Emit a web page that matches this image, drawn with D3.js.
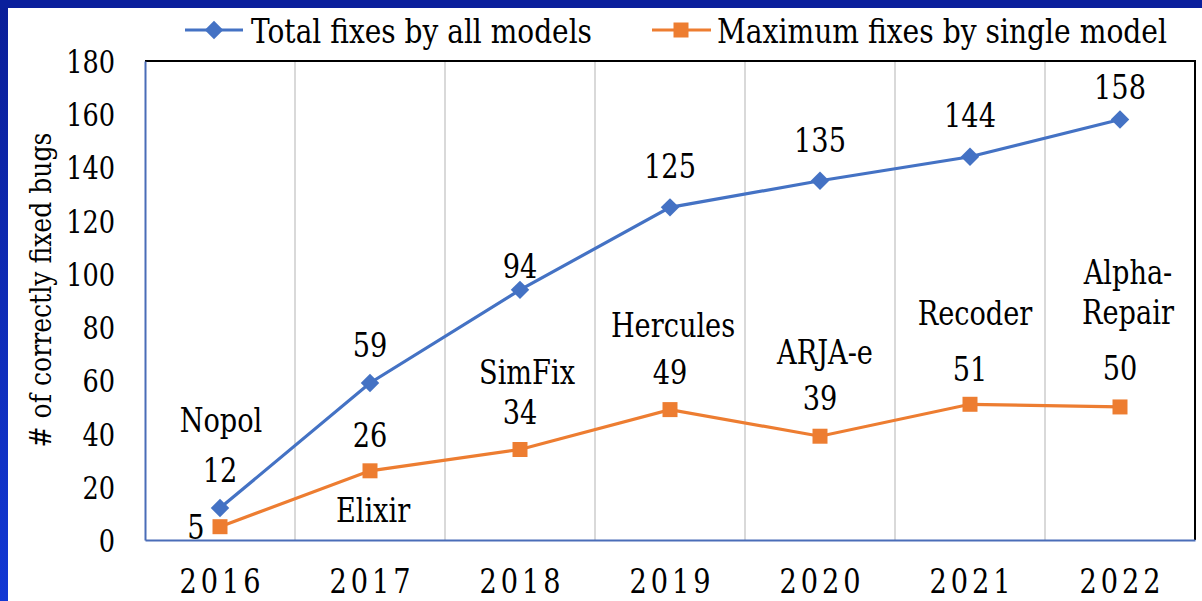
<!DOCTYPE html>
<html>
<head>
  <script src="https://d3js.org/d3.v7.min.js"></script>
  <style>
    body { margin: 0; background: white; }
  </style>
</head>
<body>
  <svg id="chart" width="1202" height="601"></svg>
  <script>
    // data
    const years = ["2016", "2017", "2018", "2019", "2020", "2021", "2022"];
    const totalFixes = [12, 59, 94, 125, 135, 144, 158];
    const maxFixes = [5, 26, 34, 49, 39, 51, 50];
    const bestModel = [["Nopol"], ["Elixir"], ["SimFix"], ["Hercules"], ["ARJA-e"], ["Recoder"], ["Alpha-", "Repair"]];
    const yTicks = [0, 20, 40, 60, 80, 100, 120, 140, 160, 180];
    const seriesNames = ["Total fixes by all models", "Maximum fixes by single model"];

    // label offsets relative to the marker (layout only)
    const totalLabelDy = [-38, -38, -24, -42, -41, -42, -33];
    const maxLabelPos = [
      { vx: -24, vy: 0, nx: 1, ny: [-107] },
      { vx: 0, vy: -36, nx: 3, ny: [39] },
      { vx: 0, vy: -38, nx: 7, ny: [-78] },
      { vx: 0, vy: -38, nx: 3, ny: [-85] },
      { vx: 0, vy: -38, nx: 5, ny: [-84] },
      { vx: 0, vy: -36, nx: 5, ny: [-92] },
      { vx: 0, vy: -39, nx: 8, ny: [-135, -95] }
    ];

    const FONT = "'DejaVu Serif', 'Liberation Serif', 'Times New Roman', serif";
    const blue = "#4472c4", orange = "#ed7d31";
    const SX = 0.8, SY = 1.0; // squeeze the wide serif to the source proportions
    const FS = 34;
    const margin = { left: 145, top: 61, right: 7, bottom: 61 };
    const W = 1202, H = 601;

    const svg = d3.select("#chart");

    // frame
    const grad = svg.append("defs").append("linearGradient")
      .attr("id", "leftBar").attr("x1", 0).attr("x2", 0).attr("y1", 0).attr("y2", 1);
    grad.append("stop").attr("offset", "0%").attr("stop-color", "#0a1e98");
    grad.append("stop").attr("offset", "100%").attr("stop-color", "#1238d4");
    svg.append("rect").attr("x", 0).attr("y", 0).attr("width", 8).attr("height", H).attr("fill", "url(#leftBar)");
    svg.append("rect").attr("x", 0).attr("y", 0).attr("width", W).attr("height", 8).attr("fill", "#0a1f9c");

    const x = d3.scaleBand().domain(years).range([margin.left, W - margin.right]);
    const y = d3.scaleLinear().domain([0, 180]).range([H - margin.bottom, margin.top]);
    const cx = d => x(d) + x.bandwidth() / 2;

    function addText(xp, yp, str, size, anchor) {
      return svg.append("text")
        .attr("transform", "translate(" + xp + "," + yp + ") scale(" + SX + "," + SY + ")")
        .attr("text-anchor", anchor || "middle")
        .attr("dy", "0.36em")
        .style("font-size", size + "px")
        .text(str);
    }

    // vertical gridlines between categories
    svg.append("g").selectAll("line")
      .data(years.slice(1))
      .join("line")
      .attr("x1", d => x(d)).attr("x2", d => x(d))
      .attr("y1", y(180)).attr("y2", y(0))
      .attr("stroke", "#d9d9d9").attr("stroke-width", 2);

    // plot border: top/right black
    svg.append("path")
      .attr("d", "M" + x.range()[0] + "," + y(180) + "H" + x.range()[1] + "V" + y(0))
      .attr("fill", "none").attr("stroke", "#000").attr("stroke-width", 2);

    // axes
    const yAxis = svg.append("g")
      .attr("transform", "translate(" + margin.left + ",0)")
      .call(d3.axisLeft(y).tickValues(yTicks).tickSize(0).tickPadding(30 / SX).tickSizeOuter(0));
    yAxis.select(".domain").attr("stroke", "#4a6db8").attr("stroke-width", 2);
    yAxis.selectAll("text").style("font-size", "32px").attr("dy", "0.36em")
      .attr("transform", "scale(" + SX + "," + SY + ")");

    const xAxis = svg.append("g")
      .attr("transform", "translate(0," + y(0) + ")")
      .call(d3.axisBottom(x).tickSize(0).tickSizeOuter(0).tickPadding(0));
    xAxis.select(".domain").attr("stroke", "#4a6db8").attr("stroke-width", 2);
    xAxis.selectAll("text").style("font-size", FS + "px").style("letter-spacing", (4 / SX) + "px")
      .attr("y", 0).attr("dy", 0)
      .attr("transform", "translate(2,53) scale(" + SX + "," + SY + ")");

    // y title
    svg.append("text")
      .attr("transform", "translate(40,290) rotate(-90)")
      .attr("text-anchor", "middle")
      .attr("dy", "0.36em")
      .attr("textLength", 315)
      .attr("lengthAdjust", "spacingAndGlyphs")
      .style("font-size", "30px")
      .text("# of correctly fixed bugs");

    // lines
    const line = d3.line().x((d, i) => cx(years[i])).y(d => y(d));
    svg.append("path").datum(maxFixes).attr("d", line)
      .attr("fill", "none").attr("stroke", orange).attr("stroke-width", 3.2);
    svg.append("path").datum(totalFixes).attr("d", line)
      .attr("fill", "none").attr("stroke", blue).attr("stroke-width", 3.2);

    const diamond = d3.symbol(d3.symbolSquare, 170);
    const square = d3.symbol(d3.symbolSquare, 225);

    svg.append("g").selectAll("path")
      .data(maxFixes)
      .join("path")
      .attr("d", square)
      .attr("transform", (d, i) => "translate(" + cx(years[i]) + "," + y(d) + ")")
      .attr("fill", orange);

    svg.append("g").selectAll("path")
      .data(totalFixes)
      .join("path")
      .attr("d", diamond)
      .attr("transform", (d, i) => "translate(" + cx(years[i]) + "," + y(d) + ") rotate(45)")
      .attr("fill", blue);

    // data labels
    totalFixes.forEach((v, i) => {
      addText(cx(years[i]), y(v) + totalLabelDy[i], v, FS);
    });
    maxFixes.forEach((v, i) => {
      const p = maxLabelPos[i];
      addText(cx(years[i]) + p.vx, y(v) + p.vy, v, FS);
      bestModel[i].forEach((name, j) => {
        addText(cx(years[i]) + p.nx, y(v) + p.ny[j], name, FS);
      });
    });

    // legend
    const legendY = 30;
    const lg = svg.append("g");
    lg.append("line").attr("x1", 185).attr("x2", 243).attr("y1", legendY).attr("y2", legendY)
      .attr("stroke", blue).attr("stroke-width", 3.2);
    lg.append("path").attr("d", diamond)
      .attr("transform", "translate(214," + legendY + ") rotate(45)").attr("fill", blue);
    addText(251, legendY + 1, seriesNames[0], FS, "start")
      .attr("textLength", 341 / SX).attr("lengthAdjust", "spacingAndGlyphs");

    lg.append("line").attr("x1", 652).attr("x2", 711).attr("y1", legendY).attr("y2", legendY)
      .attr("stroke", orange).attr("stroke-width", 3.2);
    lg.append("path").attr("d", square)
      .attr("transform", "translate(681," + legendY + ")").attr("fill", orange);
    addText(717, legendY + 1, seriesNames[1], FS, "start")
      .attr("textLength", 450 / SX).attr("lengthAdjust", "spacingAndGlyphs");

    svg.selectAll("text").style("font-family", FONT).attr("fill", "#000");
  </script>
</body>
</html>
